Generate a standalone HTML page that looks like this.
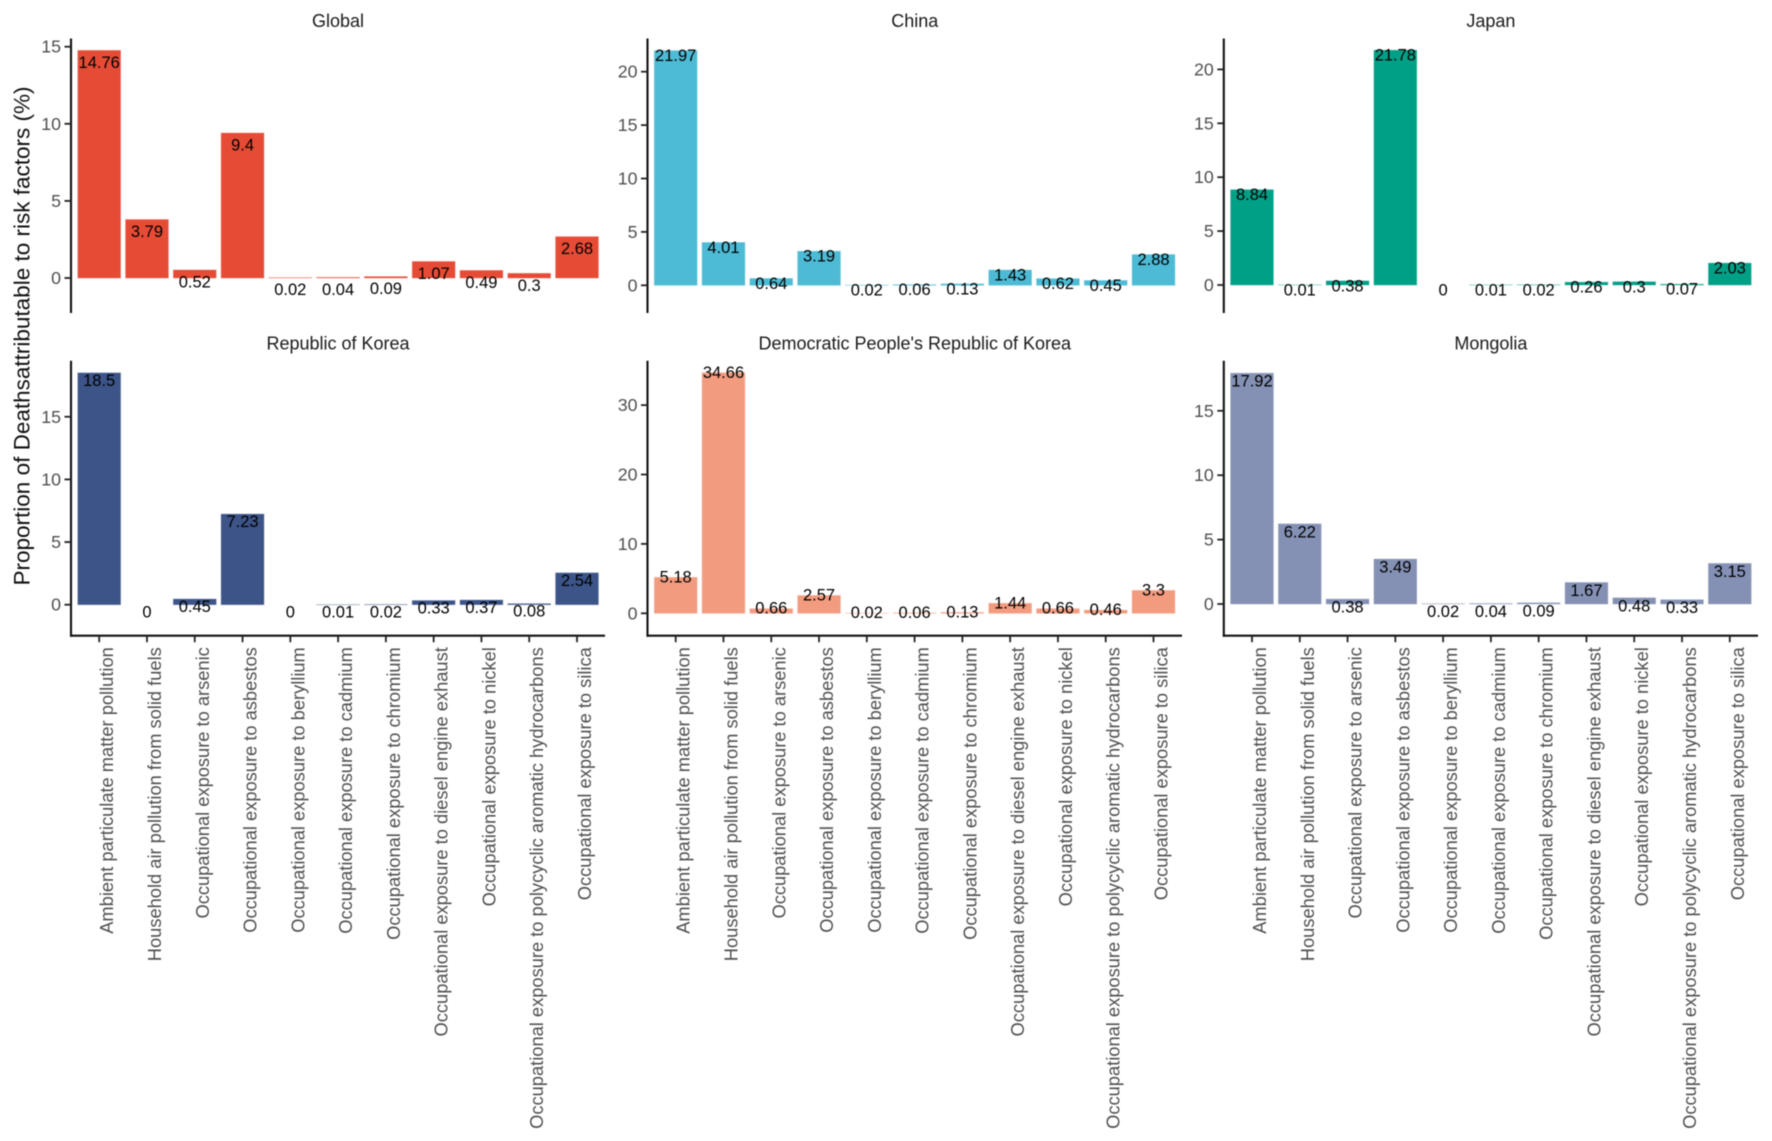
<!DOCTYPE html>
<html lang="en">
<head>
<meta charset="utf-8">
<title>Proportion of deaths attributable to risk factors</title>
<style>
html,body{margin:0;padding:0;background:#fff;width:1772px;height:1141px;overflow:hidden}
svg{display:block;font-family:"Liberation Sans",Arial,sans-serif;filter:blur(.45px)}
</style>
</head>
<body>
<svg id="chart" xmlns="http://www.w3.org/2000/svg" width="1772" height="1141" viewBox="0 0 1772 1141">
<rect x="0" y="0" width="1772" height="1141" fill="#fff"/>
<text transform="translate(29.5,336) rotate(-90)" text-anchor="middle" font-size="22.5" fill="#111">Proportion of Deathsattributable to risk factors (%)</text>
</svg>
<script>
const categories = [
  "Ambient particulate matter pollution",
  "Household air pollution from solid fuels",
  "Occupational exposure to arsenic",
  "Occupational exposure to asbestos",
  "Occupational exposure to beryllium",
  "Occupational exposure to cadmium",
  "Occupational exposure to chromium",
  "Occupational exposure to diesel engine exhaust",
  "Occupational exposure to nickel",
  "Occupational exposure to polycyclic aromatic hydrocarbons",
  "Occupational exposure to silica"
];
const panelTitles = ["Global", "China", "Japan", "Republic of Korea", "Democratic People's Republic of Korea", "Mongolia"];
const globalValues = [14.76, 3.79, 0.52, 9.4, 0.02, 0.04, 0.09, 1.07, 0.49, 0.3, 2.68];
const chinaValues = [21.97, 4.01, 0.64, 3.19, 0.02, 0.06, 0.13, 1.43, 0.62, 0.45, 2.88];
const japanValues = [8.84, 0.01, 0.38, 21.78, 0, 0.01, 0.02, 0.26, 0.3, 0.07, 2.03];
const koreaValues = [18.5, 0, 0.45, 7.23, 0, 0.01, 0.02, 0.33, 0.37, 0.08, 2.54];
const dprkValues = [5.18, 34.66, 0.66, 2.57, 0.02, 0.06, 0.13, 1.44, 0.66, 0.46, 3.3];
const mongoliaValues = [17.92, 6.22, 0.38, 3.49, 0.02, 0.04, 0.09, 1.67, 0.48, 0.33, 3.15];
const globalTicks = [0, 5, 10, 15];
const chinaTicks = [0, 5, 10, 15, 20];
const japanTicks = [0, 5, 10, 15, 20];
const koreaTicks = [0, 5, 10, 15];
const dprkTicks = [0, 10, 20, 30];
const mongoliaTicks = [0, 5, 10, 15];

const BAR_STEP = 47.78, BAR_WIDTH = 42.8, FIRST_BAR = 28.2;
const panels = [
  {key:"global", values:globalValues, ticks:globalTicks, color:"#E64B35", axisX:71, right:605, top:38.5, bottom:313, zeroY:278, pxPerUnit:15.42, drop:12.5, titleY:21, xAxis:false},
  {key:"china", values:chinaValues, ticks:chinaTicks, color:"#4DBBD5", axisX:647.5, right:1182, top:38.5, bottom:313, zeroY:285.3, pxPerUnit:10.68, drop:5.5, titleY:21, xAxis:false},
  {key:"japan", values:japanValues, ticks:japanTicks, color:"#00A087", axisX:1223.8, right:1758, top:38.5, bottom:313, zeroY:285, pxPerUnit:10.78, drop:5.5, titleY:21, xAxis:false},
  {key:"korea", values:koreaValues, ticks:koreaTicks, color:"#3C5488", axisX:71, right:605, top:360.7, bottom:635.7, zeroY:604.7, pxPerUnit:12.53, drop:8, titleY:343.5, xAxis:true},
  {key:"dprk", values:dprkValues, ticks:dprkTicks, color:"#F39B7F", axisX:647.5, right:1182, top:360.7, bottom:635.7, zeroY:613.3, pxPerUnit:6.94, drop:0, titleY:343.5, xAxis:true},
  {key:"mongolia", values:mongoliaValues, ticks:mongoliaTicks, color:"#8491B4", axisX:1223.8, right:1758, top:360.7, bottom:635.7, zeroY:604, pxPerUnit:12.88, drop:8.5, titleY:343.5, xAxis:true}
];

const SVG_NS = "http://www.w3.org/2000/svg";
const root = document.getElementById("chart");
function make(tag, parent, attrs, text) {
  const el = document.createElementNS(SVG_NS, tag);
  for (const k in attrs) el.setAttribute(k, attrs[k]);
  if (text !== undefined) el.textContent = text;
  parent.appendChild(el);
  return el;
}
function xScale(p, i) { return p.axisX + FIRST_BAR + i * BAR_STEP; }
function yScale(p, v) { return p.zeroY - v * p.pxPerUnit; }

panels.forEach(function (p, pi) {
  const g = make("g", root, {});
  
  

  const title = make("text", g, {x:(p.axisX + p.right) / 2, y:p.titleY, "text-anchor":"middle", "dominant-baseline":"central", "font-size":18, fill:"#1a1a1a"}, panelTitles[pi]);
  
  

  p.values.forEach(function (v, i) {
    const y = yScale(p, v), y0 = yScale(p, 0), cx = xScale(p, i);
    const bar = make("rect", g, {x:cx - BAR_WIDTH / 2, y:Math.min(y, y0), width:BAR_WIDTH, height:Math.abs(y0 - y), fill:p.color, stroke:p.color, "stroke-opacity":0.3, "stroke-width":1});
    
    
  });

  p.values.forEach(function (v, i) {
    const y = yScale(p, v), cx = xScale(p, i);
    const label = make("text", g, {x:cx, y:y + p.drop, "text-anchor":"middle", "dominant-baseline":"central", "font-size":16.5, fill:"#000"}, String(v));
    
    
  });

  const yAxis = make("line", g, {x1:p.axisX, x2:p.axisX, y1:p.top, y2:p.bottom + (p.xAxis ? 1 : 0), stroke:"#111", "stroke-width":2.1});
  
  

  p.ticks.forEach(function (t) {
    const y = yScale(p, t);
    const tick = make("line", g, {x1:p.axisX - 6.5, x2:p.axisX, y1:y, y2:y, stroke:"#222", "stroke-width":1.8});
    
    
    const tl = make("text", g, {x:p.axisX - 10, y:y, "text-anchor":"end", "dominant-baseline":"central", "font-size":17.8, fill:"#505050"}, String(t));
    
    
  });

  if (p.xAxis) {
    const xAxis = make("line", g, {x1:p.axisX - 1, x2:p.right, y1:p.bottom, y2:p.bottom, stroke:"#111", "stroke-width":2.1});
    
    
    categories.forEach(function (c, i) {
      const cx = xScale(p, i);
      const tick = make("line", g, {x1:cx, x2:cx, y1:p.bottom, y2:p.bottom + 6.5, stroke:"#222", "stroke-width":1.8});
      
      
      const lab = make("text", g, {transform:"translate(" + (cx + 14) + "," + (p.bottom + 11.5) + ") rotate(-90)", "text-anchor":"end", "font-size":18.3, fill:"#505050"}, c);
      
      
    });
  }
});
</script>
</body>
</html>
